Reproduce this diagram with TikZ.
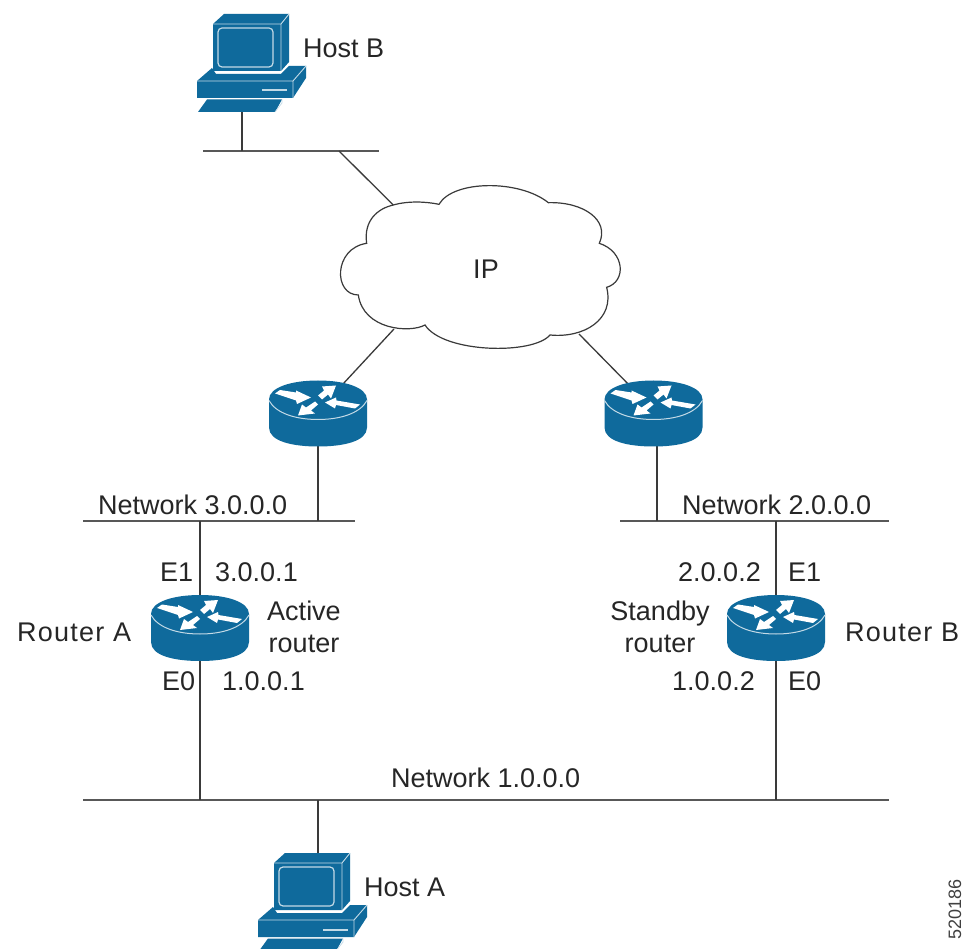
\documentclass[tikz,border=0pt]{standalone}
\usepackage{fontspec}
\setmainfont{Liberation Sans}
\newfontfamily\spacedfont[LetterSpace=4.6]{Liberation Sans}
\definecolor{ciscoblue}{HTML}{0F6A9C}
\definecolor{wire}{HTML}{3A3A3A}
\tikzset{
  wireline/.style={draw=wire,line width=1.3pt},
  busline/.style={draw=wire!85,line width=1.6pt},
  lbl/.style={anchor=base west,inner sep=0pt,font=\fontsize{27}{32}\selectfont,text=black!85},
  lblc/.style={anchor=base,inner sep=0pt,font=\fontsize{27}{32}\selectfont,text=black!85},
  lbls/.style={anchor=base west,inner sep=0pt,font=\spacedfont\fontsize{27}{32}\selectfont,text=black!85},
  routerbox/.style={minimum width=99pt,minimum height=66pt,inner sep=0pt},
  hostbox/.style={minimum width=109pt,minimum height=98pt,inner sep=0pt,anchor=north west},
  routerpic/.pic={
    \fill[ciscoblue] (-49,-14) -- (-49,14) .. controls (-49,28) and (-25,33) .. (0,33) .. controls (25,33) and (49,28) .. (49,14) -- (49,-14) .. controls (49,-26) and (27,-33) .. (0,-33) .. controls (-27,-33) and (-49,-26) .. (-49,-14) -- cycle;
    \draw[white!75!ciscoblue,line width=1pt] (-49,-13) .. controls (-42,0) and (-22,6) .. (0,6) .. controls (22,6) and (42,0) .. (49,-13);
    \fill[white] (-43,-20) -- (-38,-23.5) -- (-22,-21) -- (-22,-23) -- (-7,-16) -- (-21,-9.5) -- (-22,-13) -- cycle;
    \fill[white] (18,-28) -- (4,-27) -- (6,-23) -- (0,-18) -- (4,-14) -- (10,-19) -- (13,-15) -- cycle;
    \fill[white] (7,-11) -- (18,-16) -- (18.5,-13) -- (42,-9) -- (37,-5) -- (18,-8.5) -- (17,-5) -- cycle;
    \fill[white] (-20,2) -- (-16,-9) -- (-12,-6) -- (-3,-12) -- (0,-9) -- (-7,-3) -- (-3,0) -- cycle;
  },
  hostpic/.pic={
    \fill[ciscoblue] (16,10) -- (27,0) -- (92,0) -- (92,48) -- (84,57) -- (16,57) -- cycle;
    \draw[white!75!ciscoblue,line width=.9pt] (16,10) -- (84,10) -- (92,0) (84,10) -- (84,57);
    \draw[white!75!ciscoblue,line width=1.2pt,rounded corners=4pt] (21,14) rectangle (76,53);
    \fill[ciscoblue] (0,67) -- (15,54) -- (19,60) -- (84,60) -- (92,52) -- (109,52) -- (96,67) -- (96,84) -- (0,84) -- cycle;
    \fill[ciscoblue] (96,67) -- (109,52) -- (109,64) -- (96,84) -- cycle;
    \draw[white!75!ciscoblue,line width=.9pt] (0,67) -- (96,67) -- (109,52) (96,67) -- (96,84);
    \fill[white!75!ciscoblue] (65,75.5) rectangle (90,77.5);
    \fill[ciscoblue] (10,85.5) -- (85,85.5) -- (78,98) -- (1,98) -- cycle;
    \draw[white!75!ciscoblue,line width=.7pt] (78,98) -- (85,89) -- (85,85.5);
  }
}
\begin{document}
\begin{tikzpicture}[x=1pt,y=-1pt]
\useasboundingbox (0,0) rectangle (962,949);
\fill[white] (0,0) rectangle (962,949);
\begin{scope}
\clip (0,0) rectangle (962,949);
% device placeholders
\node[hostbox] (hostb) at (197,14) {};
\node[hostbox] (hosta) at (258,853) {};
\node[routerbox] (r1) at (318,413.5) {};
\node[routerbox] (r2) at (653.5,413.5) {};
\node[routerbox] (ra) at (200,628) {};
\node[routerbox] (rb) at (776,628) {};
% anchor points
\coordinate (cloudnw) at (393.3,205);
\coordinate (cloudsw) at (394,329);
\coordinate (cloudse) at (579,334);
\coordinate (r1in) at (343,384);
\coordinate (r2in) at (634,390);
\coordinate (bbl) at (203,151);
\coordinate (bbr) at (379,151);
\coordinate (bbt) at (242,151);
\coordinate (bbc) at (339,151);
\coordinate (n3l) at (83,521);
\coordinate (n3r) at (355,521);
\coordinate (n2l) at (620,521);
\coordinate (n2r) at (889,521);
\coordinate (n1l) at (83,800);
\coordinate (n1r) at (889,800);
\coordinate (n3a) at (318,521);
\coordinate (n3b) at (200,521);
\coordinate (n2a) at (657,521);
\coordinate (n2t) at (657,440);
\coordinate (n2b) at (776,521);
\coordinate (n1a) at (200,800);
\coordinate (n1b) at (776,800);
\coordinate (n1c) at (318,800);
\coordinate (hat) at (318,856);
\coordinate (hbb) at (242,108);
% connectors
\draw[busline] (bbl) -- (bbr);
\draw[busline] (n3l) -- (n3r);
\draw[busline] (n2l) -- (n2r);
\draw[busline] (n1l) -- (n1r);
\draw[wireline] (hbb) -- (bbt);
\draw[wireline] (bbc) -- (cloudnw);
\draw[wireline] (cloudsw) -- (r1in);
\draw[wireline] (cloudse) -- (r2in);
\draw[wireline] (r1.center) -- (n3a);
\draw[wireline] (n2t) -- (n2a);
\draw[wireline] (n3b) -- (ra.center);
\draw[wireline] (ra.center) -- (n1a);
\draw[wireline] (n2b) -- (rb.center);
\draw[wireline] (rb.center) -- (n1b);
\draw[wireline] (n1c) -- (hat);
% devices
\pic at (197,14) {hostpic};
\pic at (258,853) {hostpic};
\pic at (318,413.5) {routerpic};
\pic at (653.5,413.5) {routerpic};
\pic at (200,628) {routerpic};
\pic at (776,628) {routerpic};
% cloud
\begin{scope}[shift={(320,170)},x=0.3333pt,y=-0.3333pt]
\draw[draw=wire,line width=1.2pt,fill=white]
 (220,105) .. controls (265,92) and (320,95) .. (357,103)
 .. controls (400,29) and (600,29) .. (685,98)
 .. controls (790,95) and (870,150) .. (838,220)
 .. controls (915,245) and (920,335) .. (860,352)
 .. controls (885,450) and (790,505) .. (690,495)
 .. controls (640,555) and (370,550) .. (315,465)
 .. controls (270,490) and (130,480) .. (115,375)
 .. controls (40,375) and (40,235) .. (140,220)
 .. controls (130,150) and (175,115) .. (220,105) -- cycle;
\end{scope}
\node[lblc] (cloud) at (486,279) {IP};
% labels
\node[lbl] (lhb) at (303,58) {Host B};
\node[lbl] (lha) at (364,896) {Host A};
\node[lbl] (ln3) at (98,515) {Network 3.0.0.0};
\node[lbl] (ln2) at (682,515) {Network 2.0.0.0};
\node[lbl] (ln1) at (391,787) {Network 1.0.0.0};
\node[lbl] (le1a) at (160,581) {E1};
\node[lbl] (lip3) at (215,581) {3.0.0.1};
\node[lbls] (lra) at (17,641) {Router A};
\node[lblc] (lact) at (304,620) {Active};
\node[lblc] (lactr) at (304,652) {router};
\node[lbl] (le0a) at (162,690) {E0};
\node[lbl] (lip1) at (222,690) {1.0.0.1};
\node[lbl] (lip2) at (678,581) {2.0.0.2};
\node[lbl] (le1b) at (788,581) {E1};
\node[lblc] (lst) at (660,620) {Standby};
\node[lblc] (lstr) at (660,652) {router};
\node[lbls] (lrb) at (845,641) {Router B};
\node[lbl] (lip12) at (672,690) {1.0.0.2};
\node[lbl] (le0b) at (788,690) {E0};
\node[anchor=base west,rotate=90,inner sep=0pt,font=\fontsize{18}{20}\selectfont,text=black!75] (lid) at (961,940) {520186};
\end{scope}
\end{tikzpicture}
\end{document}
